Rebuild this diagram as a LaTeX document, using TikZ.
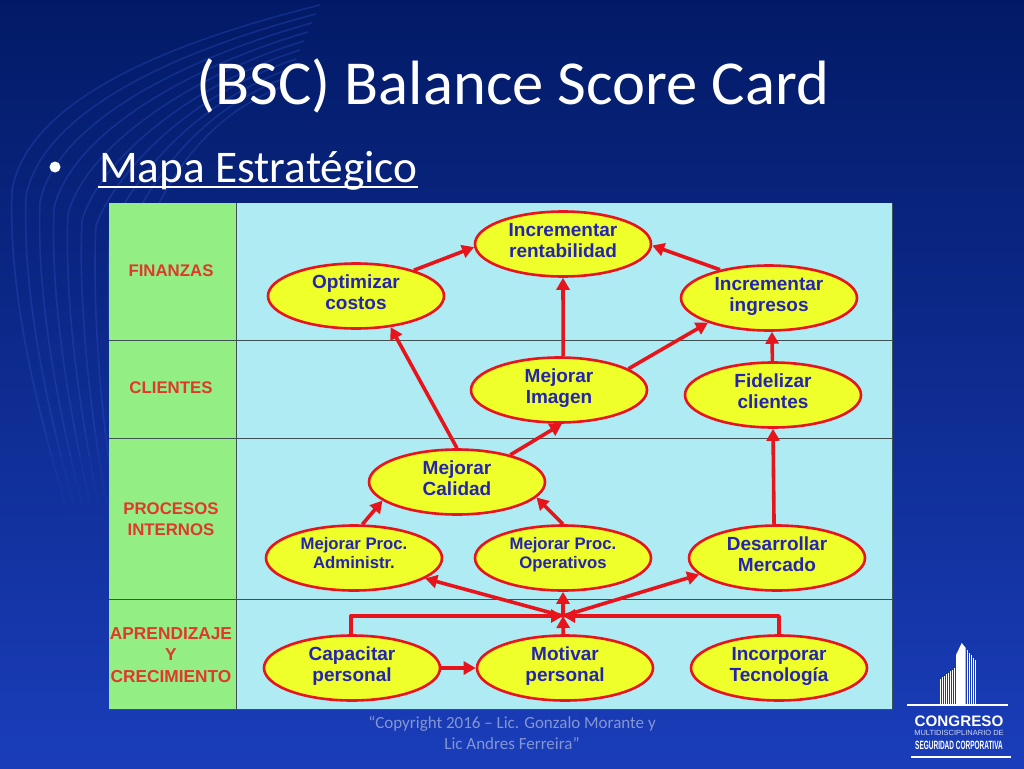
\documentclass[tikz,border=0pt]{standalone}
\usepackage{fontspec}
\setmainfont{Carlito}
\newfontfamily\arialfont{Liberation Sans}
\usetikzlibrary{arrows.meta,shapes.geometric,positioning,calc}
\definecolor{navytop}{HTML}{021A66}
\definecolor{navybot}{HTML}{1A3DBA}
\definecolor{swirl}{HTML}{2F55C8}
\definecolor{panelblue}{HTML}{AFEBF3}
\definecolor{panelgreen}{HTML}{93EE84}
\definecolor{ovalyellow}{HTML}{EEFF2A}
\definecolor{ovalred}{HTML}{E8141C}
\definecolor{ovaltext}{HTML}{2424B0}
\definecolor{rowtext}{HTML}{E0382C}
\definecolor{footgray}{HTML}{8496D2}
\tikzset{
  oval/.style={ellipse,draw=ovalred,line width=2.6pt,fill=ovalyellow,minimum width=176pt,minimum height=65pt,inner sep=0pt,
    align=center,text=ovaltext,text depth=8pt,font=\arialfont\bfseries\fontsize{19}{21}\selectfont},
  smalloval/.style={oval,text depth=11pt,font=\arialfont\bfseries\fontsize{16.7}{19}\selectfont},
  rowlabel/.style={align=center,text=rowtext,font=\arialfont\bfseries\fontsize{16.8}{21.5}\selectfont},
  link/.style={draw=ovalred,line width=3.6pt,-{Triangle[length=12pt,width=13pt]}},
  rowline/.style={draw=black!65!panelblue,line width=1pt},
  footer/.style={text=footgray,font=\fontsize{17}{21}\selectfont,align=center},
  logotext/.style={text=white,inner sep=0pt,font=\arialfont}
}
\begin{document}
\begin{tikzpicture}[x=1pt,y=-1pt,line join=round]
\useasboundingbox (0,0) rectangle (1024,768);
\shade[top color=navytop,bottom color=navybot] (0,0) rectangle (1024,768);
% swirl, thinning out towards its lower end
\foreach \ya/\yb/\op in {0/430/0.32,430/455/0.24,455/480/0.16,480/505/0.09,505/525/0.04}{
  \begin{scope}
    \clip (0,\ya) rectangle (400,\yb);
    \foreach \d in {0,1,...,9}
      \draw[swirl,line width=1.6pt,opacity=\op] (320-4*\d,5+9*\d) .. controls (200-2*\d,35+10*\d) and (30+14*\d,90+14*\d) .. (12+14*\d,190+6*\d) .. controls (8+14*\d,300) and (40+10*\d,420) .. (70+8*\d,520);
  \end{scope}
}
\node[text=white,font=\fontsize{62.6}{64}\selectfont] (title) at (513,86) {(BSC) Balance Score Card};
\node[text=white,font=\fontsize{45.3}{48}\selectfont,anchor=west,inner sep=0pt] (subtitle) at (99,171) {Mapa Estratégico};
\fill[white] (55,167) circle (5.5);
\draw[white,line width=2pt] (98,187) -- (418,187);
\fill[panelblue] (109,203) rectangle (892,709);
\fill[panelgreen] (109,203) rectangle (236,709);
\draw[rowline] (236,203) -- (236,709);
\draw[rowline] (892,203) -- (892,709) -- (109,709);
\foreach \y in {340,438,599}
  \draw[rowline] (109,\y) -- (892,\y);
\node[rowlabel] (finanzas) at (171,271) {FINANZAS};
\node[rowlabel] (clientes) at (171,388) {CLIENTES};
\node[rowlabel] (procesos) at (171,519) {PROCESOS\\INTERNOS};
\node[rowlabel,font=\arialfont\bfseries\fontsize{17.3}{21.5}\selectfont] (aprendizaje) at (171,655) {APRENDIZAJE\\Y\\CRECIMIENTO};
\node[oval] (rentabilidad) at (563,244) {Incrementar\\rentabilidad};
\node[oval] (costos) at (356,296) {Optimizar\\costos};
\node[oval] (ingresos) at (769,298) {Incrementar\\ingresos};
\node[oval] (imagen) at (559,390) {Mejorar\\Imagen};
\node[oval] (fidelizar) at (773,395) {Fidelizar\\clientes};
\node[oval] (calidad) at (457,482) {Mejorar\\Calidad};
\node[smalloval] (admin) at (354,558) {Mejorar Proc.\\Administr.};
\node[smalloval] (operativos) at (563,558) {Mejorar Proc.\\Operativos};
\node[oval] (mercado) at (777,558) {Desarrollar\\Mercado};
\node[oval] (capacitar) at (352,668) {Capacitar\\personal};
\node[oval] (motivar) at (565,668) {Motivar\\personal};
\node[oval] (tecnologia) at (779,668) {Incorporar\\Tecnología};
\coordinate (hub) at (563,616);
\draw[link] (costos.24) -- (rentabilidad.182);
\draw[link] (ingresos.150) -- (rentabilidad.-1);
\draw[link] (imagen.83) -- (rentabilidad.270);
\draw[link] (imagen.17) -- (ingresos.202);
\draw[link] (fidelizar.91) -- (ingresos.275);
\draw[link] (mercado.95) -- (fidelizar.270);
\draw[link] (calidad.90) -- (costos.-42);
\draw[link] (calidad.27) -- (imagen.275);
\draw[link] (admin.76) -- (calidad.194);
\draw[link] (operativos.90) -- (calidad.-11);
\draw[link] (hub) -- (admin.-16);
\draw[link] (hub) -- (operativos.270);
\draw[link] (hub) -- (mercado.192);
\draw[link] (capacitar.0) -- (motivar.180);
\draw[link] (motivar.93) -- (hub);
\draw[link] (capacitar.92) |- (hub);
\draw[link] (tecnologia.90) |- (hub);
\node[footer] (copyright) at (512,733) {“Copyright 2016 – Lic. Gonzalo Morante y\\Lic Andres Ferreira”};
% logo
\fill[white] (956,705) -- (956,655) -- (961.7,643) -- (965.7,648) -- (965.7,705) -- cycle;
\foreach \i in {0,1,...,4}
  \draw[white,line width=1.2pt] (967.5+1.9*\i,705) -- (967.5+1.9*\i,650+2.5*\i);
\foreach \i in {0,1,...,7}
  \draw[white,line width=1.1pt] (954.5-1.95*\i,705) -- (954.5-1.95*\i,668+1.5*\i);
\draw[white,line width=1.4pt] (907,705) -- (1008,705);
\draw[white,line width=1.4pt] (911,757) -- (1011,757);
\node[logotext,font=\arialfont\bfseries\fontsize{15.2}{16}\selectfont] (congreso) at (959,721) {CONGRESO};
\node[logotext,text=white!80!navybot,font=\arialfont\fontsize{7.5}{8}\selectfont] (multi) at (959,733) {MULTIDISCIPLINARIO DE};
\node[logotext,font=\arialfont\bfseries\fontsize{12}{13}\selectfont,xscale=0.54,transform shape] (seguridad) at (959,745) {SEGURIDAD CORPORATIVA};
\end{tikzpicture}
\end{document}
